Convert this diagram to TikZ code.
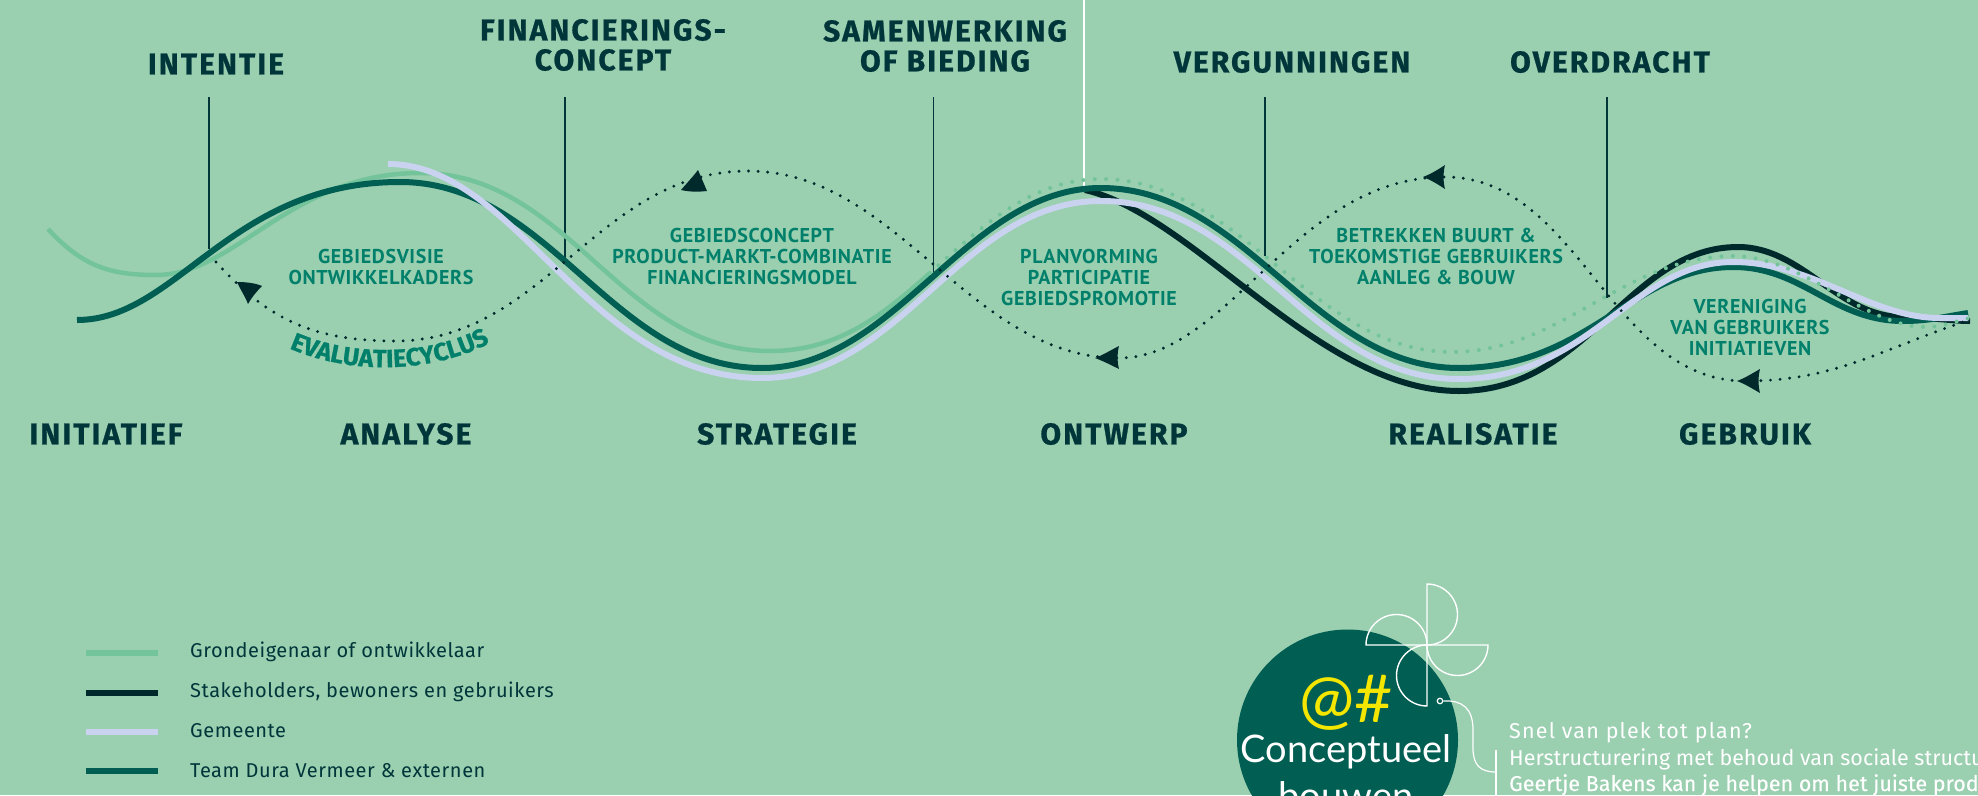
\documentclass[tikz,border=0pt]{standalone}
\usepackage{fontspec}
\usetikzlibrary{decorations.text}
\setmainfont{Fira Sans}
\newfontfamily\headfont[LetterSpace=7,BoldFeatures={FakeBold=0.8}]{Fira Sans}
\newfontfamily\curvefont[LetterSpace=3,BoldFeatures={FakeBold=0.8}]{Fira Sans}
\newfontfamily\labelfont[LetterSpace=3.3]{PT Sans}
\newfontfamily\legendfont[LetterSpace=2.8]{Fira Sans}
\newfontfamily\wideplain[LetterSpace=5.5]{Fira Sans}
\newfontfamily\medfont[FakeBold=0.3]{Fira Sans}
\newfontfamily\roundfont{Lato}
\definecolor{bgc}{HTML}{9ACFB0}
\definecolor{teamc}{HTML}{005E52}
\definecolor{lightc}{HTML}{73C39B}
\definecolor{darkc}{HTML}{00292B}
\definecolor{lavc}{HTML}{C9D3EF}
\definecolor{greenc}{HTML}{007F6A}
\definecolor{headc}{HTML}{00363A}
\definecolor{yellowc}{HTML}{F5E600}
\tikzset{
  headtxt/.style={text=headc,align=center,font=\headfont\bfseries\fontsize{30}{30}\selectfont,inner sep=0pt},
  greentxt/.style={text=greenc,align=center,font=\labelfont\bfseries\fontsize{20}{21}\selectfont,inner sep=0pt},
  legendtxt/.style={text=headc,anchor=west,font=\legendfont\fontsize{20}{22}\selectfont,inner sep=0pt},
  whitetxt/.style={text=white,anchor=base west,font=\fontsize{21.5}{26}\selectfont,inner sep=0pt},
  tickline/.style={draw=headc,line width=1.8pt},
  curvelight/.style={draw=lightc,line width=4.5pt},
  curvedark/.style={draw=darkc,line width=6pt},
  curveteam/.style={draw=teamc,line width=6pt},
  curvelav/.style={draw=lavc,line width=6pt},
  lightdots/.style={draw=lightc,line width=4pt,line cap=round,dash pattern=on 0pt off 11.4pt},
  blackdots/.style={draw=darkc,line width=3.2pt,line cap=round,dash pattern=on 0pt off 9.6pt},
  headfill/.style={fill=darkc,draw=none},
  pinwheel/.style={draw=white,line width=1.4pt},
}
\begin{document}
\begin{tikzpicture}[x=1pt,y=-1pt]
\useasboundingbox (0,0) rectangle (1978,795);
\clip (0,0) rectangle (1978,795);
\fill[bgc] (0,0) rectangle (1978,795);
% ticks
\coordinate (t1a) at (209,97); \coordinate (t1b) at (209,249);
\coordinate (t2a) at (565,97); \coordinate (t2b) at (565,258);
\coordinate (t3a) at (933.5,97); \coordinate (t3b) at (933.5,272);
\coordinate (t4a) at (1084,0); \coordinate (t4b) at (1084,187);
\coordinate (t5a) at (1265,97); \coordinate (t5b) at (1265,256);
\coordinate (t6a) at (1607,97); \coordinate (t6b) at (1607,298);
\draw[tickline] (t1a)--(t1b);
\draw[tickline] (t2a)--(t2b);
\draw[tickline] (t3a)--(t3b);
\draw[draw=white,line width=2pt] (t4a)--(t4b);
\draw[tickline] (t5a)--(t5b);
\draw[tickline] (t6a)--(t6b);
% light solid
\draw[curvelight] (48,229) .. controls +(35,38) and +(-45,0) .. (156,275)
  .. controls +(80,0) and +(-130,0) .. (420,173)
  .. controls +(150,0) and +(-150,0) .. (770,351)
  .. controls +(70,0) and +(-45,40) .. (930,273);
% dark
\draw[curvedark] (1085,190) .. controls (1195,215) and (1319,391) .. (1459,391)
  .. controls +(130,0) and +(-110,0) .. (1738,247)
  .. controls +(65,0) and +(-65,0) .. (1903,317)
  .. controls +(25,0) and +(-20,0) .. (1970,321);
% team
\draw[curveteam] (77,320) .. controls +(100,0) and +(-170,0) .. (400,182)
  .. controls +(150,0) and +(-150,0) .. (762,368)
  .. controls +(135,0) and +(-135,0) .. (1101,188)
  .. controls +(145,0) and +(-145,0) .. (1459,368)
  .. controls +(130,0) and +(-100,0) .. (1733,267)
  .. controls +(70,0) and +(-70,0) .. (1903,321)
  .. controls +(25,0) and +(-25,4) .. (1968,313);
% lavender
\draw[curvelav] (388,164) .. controls +(130,0) and +(-175,0) .. (762,378)
  .. controls +(140,0) and +(-140,0) .. (1101,201)
  .. controls +(150,0) and +(-150,0) .. (1459,379)
  .. controls +(130,0) and +(-100,0) .. (1733,262)
  .. controls +(80,0) and +(-70,0) .. (1940,318)
  -- (1968,318);
% light dotted
\draw[lightdots] (930,273) .. controls +(50,-45) and +(-70,0) .. (1101,179)
  .. controls +(140,0) and +(-140,0) .. (1452,352)
  .. controls +(110,0) and +(-110,0) .. (1733,256)
  .. controls +(70,0) and +(-60,0) .. (1925,327)
  .. controls +(20,0) and +(-15,3) .. (1970,318);
% black dotted
\draw[blackdots] (216,262) .. controls +(50,55) and +(-85,0) .. (395,341)
  .. controls +(150,0) and +(-150,0) .. (748,171)
  .. controls +(150,0) and +(-150,0) .. (1119,358)
  .. controls +(110,0) and +(-150,0) .. (1445,177)
  .. controls +(135,0) and +(-135,0) .. (1745,381)
  .. controls +(90,0) and +(-90,30) .. (1969,320);
% arrowheads
\fill[headfill] (248,304) .. controls (245,296) and (240,289) .. (237,282) .. controls (246,282) and (255,283) .. (262,286) .. controls (257,291) and (252,297) .. (248,304) -- cycle;
\fill[headfill] (698,170) .. controls (692,178) and (686,184) .. (681,190) .. controls (690,192) and (698,192) .. (707,191) .. controls (704,184) and (701,177) .. (698,170) -- cycle;
\fill[headfill] (1095,358) .. controls (1103,355) and (1111,350) .. (1119,346) .. controls (1117,354) and (1117,361) .. (1119,369) .. controls (1111,365) and (1103,361) .. (1095,358) -- cycle;
\fill[headfill] (1423,177) .. controls (1431,174) and (1439,169) .. (1445,165) .. controls (1443,173) and (1443,181) .. (1445,189) .. controls (1439,185) and (1431,180) .. (1423,177) -- cycle;
\fill[headfill] (1737,381) .. controls (1745,378) and (1753,373) .. (1760,369) .. controls (1758,377) and (1758,385) .. (1760,393) .. controls (1753,389) and (1745,384) .. (1737,381) -- cycle;
% top labels
\node[headtxt] (intentie) at (216,64) {INTENTIE};
\node[headtxt] (fin) at (603,45) {FINANCIERINGS-\\CONCEPT};
\node[headtxt] (sam) at (945,46) {SAMENWERKING\\OF BIEDING};
\node[headtxt] (verg) at (1292,62) {VERGUNNINGEN};
\node[headtxt] (over) at (1610,62) {OVERDRACHT};
% bottom labels
\node[headtxt] (init) at (106,434) {INITIATIEF};
\node[headtxt] (ana) at (406,434) {ANALYSE};
\node[headtxt] (stra) at (777,434) {STRATEGIE};
\node[headtxt] (ontw) at (1114,434) {ONTWERP};
\node[headtxt] (real) at (1473,434) {REALISATIE};
\node[headtxt] (gebr) at (1745,434) {GEBRUIK};
% green
\node[greentxt] (g1) at (381,267) {GEBIEDSVISIE\\ONTWIKKELKADERS};
\node[greentxt] (g2) at (752,256) {GEBIEDSCONCEPT\\PRODUCT-MARKT-COMBINATIE\\FINANCIERINGSMODEL};
\node[greentxt] (g3) at (1089,277) {PLANVORMING\\PARTICIPATIE\\GEBIEDSPROMOTIE};
\node[greentxt] (g4) at (1436,256) {BETREKKEN BUURT \&\\TOEKOMSTIGE GEBRUIKERS\\AANLEG \& BOUW};
\node[greentxt] (g5) at (1750,327) {VERENIGING\\VAN GEBRUIKERS\\INITIATIEVEN};
% curved label
\path[decorate,decoration={text along path,text align=center,
  text={|\color{greenc}\curvefont\bfseries\fontsize{25}{26}\selectfont|EVALUATIECYCLUS}}]
  (280,344) .. controls (340,374) and (430,378) .. (499,338);
% legend
\coordinate (l1a) at (86,653); \coordinate (l1b) at (158,653);
\coordinate (l2a) at (86,692.5); \coordinate (l2b) at (158,692.5);
\coordinate (l3a) at (86,732); \coordinate (l3b) at (158,732);
\coordinate (l4a) at (86,771); \coordinate (l4b) at (158,771);
\draw[lightc,line width=6pt] (l1a)--(l1b);
\draw[darkc,line width=6pt] (l2a)--(l2b);
\draw[lavc,line width=6pt] (l3a)--(l3b);
\draw[teamc,line width=6pt] (l4a)--(l4b);
\node[legendtxt] (lt1) at (190,652) {Grondeigenaar of ontwikkelaar};
\node[legendtxt] (lt2) at (190,692) {Stakeholders, bewoners en gebruikers};
\node[legendtxt] (lt3) at (190,731) {Gemeente};
\node[legendtxt] (lt4) at (190,771) {Team Dura Vermeer \& externen};
% circle
\fill[teamc] (1347.5,740) circle (110.5);
\node[inner sep=0pt,text=yellowc,font=\roundfont\fontsize{66}{68}\selectfont] (at) at (1346,703) {@\#};
\node[inner sep=0pt,text=white,font=\roundfont\fontsize{38}{46}\selectfont] (cb1) at (1346,752) {Conceptueel};
\node[inner sep=0pt,text=white,font=\roundfont\fontsize{38}{46}\selectfont] (cb2) at (1346,796) {bouwen};
% pinwheel
\coordinate (pw) at (1427,645);
\draw[pinwheel] (pw) -- (1427,584) .. controls (1443.8,584) and (1457.5,597.7) .. (1457.5,614.5) .. controls (1457.5,631.3) and (1443.8,645) .. (pw);
\draw[pinwheel] (pw) -- (1366,645) .. controls (1366,628.2) and (1379.7,614.5) .. (1396.5,614.5) .. controls (1413.3,614.5) and (1427,628.2) .. (pw);
\draw[pinwheel] (pw) -- (1427,706) .. controls (1410.2,706) and (1396.5,692.3) .. (1396.5,675.5) .. controls (1396.5,658.7) and (1410.2,645) .. (pw);
\draw[pinwheel] (pw) -- (1488,645) .. controls (1488,661.8) and (1474.3,675.5) .. (1457.5,675.5) .. controls (1440.7,675.5) and (1427,661.8) .. (pw);
% connector
\node[circle,draw=white,line width=1.2pt,inner sep=0pt,minimum size=5.5pt] (dot) at (1440,701) {};
\coordinate (cv) at (1496,772);
\coordinate (b1) at (1496,750); \coordinate (b2) at (1496,795);
\draw[white,line width=1.2pt] (dot.east) .. controls (1462,700) and (1473,708) .. (1473,730)
  -- (1473,748) .. controls (1473,765) and (1480,772) .. (cv);
\draw[white,line width=1.2pt] (b1)--(b2);
\node[whitetxt,font=\wideplain\fontsize{21.5}{26}\selectfont] (w1) at (1509,738) {Snel van plek tot plan?};
\node[whitetxt] (w2) at (1509,765) {Herstructurering met behoud van sociale structuur};
\node[whitetxt,font=\medfont\fontsize{21.5}{26}\selectfont] (w3) at (1509,791) {Geertje Bakens kan je helpen om het juiste product};
\end{tikzpicture}
\end{document}
